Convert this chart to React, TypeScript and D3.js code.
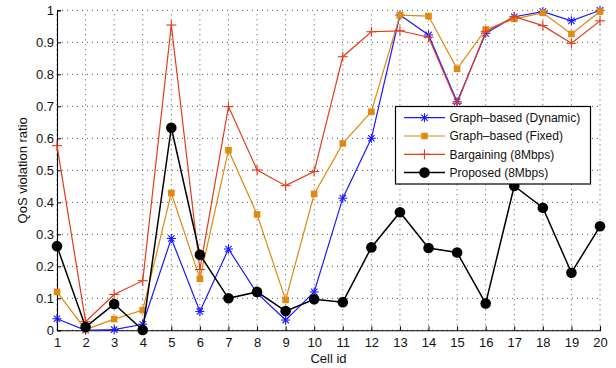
import React, { useEffect, useRef } from 'react';
import * as d3 from 'd3';

const cells = [1, 2, 3, 4, 5, 6, 7, 8, 9, 10, 11, 12, 13, 14, 15, 16, 17, 18, 19, 20];
const yTicks = [0, 0.1, 0.2, 0.3, 0.4, 0.5, 0.6, 0.7, 0.8, 0.9, 1];

const dynamicVals = [0.036, 0.0, 0.002, 0.019, 0.287, 0.059, 0.254, 0.116, 0.032, 0.12, 0.413, 0.6, 0.985, 0.923, 0.714, 0.928, 0.98, 0.996, 0.967, 1.0];
const fixedVals = [0.12, 0.002, 0.035, 0.063, 0.429, 0.161, 0.563, 0.362, 0.095, 0.426, 0.584, 0.683, 0.985, 0.982, 0.817, 0.94, 0.973, 0.992, 0.926, 0.996];
const bargainVals = [0.577, 0.027, 0.112, 0.155, 0.954, 0.19, 0.699, 0.501, 0.452, 0.496, 0.855, 0.933, 0.936, 0.916, 0.709, 0.933, 0.98, 0.952, 0.897, 0.967];
const proposedVals = [0.263, 0.01, 0.082, 0.001, 0.633, 0.236, 0.1, 0.12, 0.06, 0.097, 0.088, 0.259, 0.369, 0.257, 0.243, 0.084, 0.451, 0.383, 0.18, 0.325];

const seriesNames = ['Graph\u2013based (Dynamic)', 'Graph\u2013based (Fixed)', 'Bargaining (8Mbps)', 'Proposed (8Mbps)'];
const seriesColors = ['#1a1aff', '#e08a10', '#e23c1a', '#000000'];
const seriesMarkers = ['star', 'square', 'plus', 'circle'];

const W = 616, H = 368;
const FONT = '"Liberation Sans", Arial, Helvetica, sans-serif';

function drawMarker(g: any, kind: string, x: number, y: number, color: string) {
    if (kind === 'star') {
        const r = 4.5;
        for (let a = 0; a < 4; a++) {
            const ang = a * Math.PI / 4;
            g.append('line')
                .attr('x1', x - r * Math.cos(ang)).attr('y1', y - r * Math.sin(ang))
                .attr('x2', x + r * Math.cos(ang)).attr('y2', y + r * Math.sin(ang))
                .attr('stroke', color).attr('stroke-width', 1.1);
        }
    } else if (kind === 'square') {
        g.append('rect')
            .attr('x', x - 3.3).attr('y', y - 3.3)
            .attr('width', 6.6).attr('height', 6.6)
            .attr('fill', color);
    } else if (kind === 'plus') {
        const r = 5;
        g.append('line').attr('x1', x - r).attr('x2', x + r).attr('y1', y).attr('y2', y)
            .attr('stroke', color).attr('stroke-width', 1.1);
        g.append('line').attr('x1', x).attr('x2', x).attr('y1', y - r).attr('y2', y + r)
            .attr('stroke', color).attr('stroke-width', 1.1);
    } else {
        g.append('circle').attr('cx', x).attr('cy', y).attr('r', 5.3).attr('fill', color);
    }
}

export default function App() {
    const ref = useRef<SVGSVGElement>(null);

    useEffect(() => {
        const svg = d3.select(ref.current);
        svg.selectAll('*').remove();

        const x = d3.scaleLinear().domain([1, 20]).range([57, 600]);
        const y = d3.scaleLinear().domain([0, 1]).range([330.3, 10.3]);

        const grid = svg.append('g');
        // dotted grid
        cells.forEach((c) => {
            grid.append('line')
                .attr('x1', x(c)).attr('x2', x(c)).attr('y1', y(0)).attr('y2', y(1))
                .attr('stroke', '#222').attr('stroke-width', 0.8).attr('stroke-dasharray', '1,4');
        });
        yTicks.forEach((t) => {
            grid.append('line')
                .attr('x1', x(1)).attr('x2', x(20)).attr('y1', y(t)).attr('y2', y(t))
                .attr('stroke', '#222').attr('stroke-width', 0.8).attr('stroke-dasharray', '1,4');
        });

        // axes
        const xAxis = d3.axisBottom(x).tickValues(cells).tickSize(-4).tickPadding(7).tickFormat(d3.format('d'));
        const yAxis = d3.axisLeft(y).tickValues(yTicks).tickSize(-4).tickPadding(3).tickFormat((d: any) => d === 0 ? '0' : d === 1 ? '1' : d3.format('.1f')(d));
        const gx = svg.append('g').attr('transform', `translate(0,${y(0)})`).call(xAxis as any);
        const gy = svg.append('g').attr('transform', `translate(${x(1)},0)`).call(yAxis as any);
        [gx, gy].forEach((g) => {
            g.select('.domain').attr('stroke', '#000').attr('stroke-width', 1.1);
            g.selectAll('.tick line').attr('stroke', '#000');
            g.selectAll('.tick text').attr('font-family', FONT).attr('font-size', 13).attr('fill', '#111');
        });

        // axis labels
        svg.append('text')
            .attr('x', x(10.5)).attr('y', 363)
            .attr('text-anchor', 'middle')
            .attr('font-family', FONT).attr('font-size', 13).attr('fill', '#111')
            .text('Cell id');
        svg.append('text')
            .attr('transform', `translate(27,${y(0.5)}) rotate(-90)`)
            .attr('text-anchor', 'middle')
            .attr('font-family', FONT).attr('font-size', 13).attr('fill', '#111')
            .text('QoS violation ratio');

        // series
        const allVals = [dynamicVals, fixedVals, bargainVals, proposedVals];
        const line = d3.line<number>().x((d, i) => x(cells[i])).y((d) => y(d));
        allVals.forEach((vals, s) => {
            const g = svg.append('g');
            g.append('path')
                .datum(vals)
                .attr('d', line)
                .attr('fill', 'none')
                .attr('stroke', seriesColors[s])
                .attr('stroke-width', s === 3 ? 1.5 : 1.2);
            vals.forEach((v, i) => drawMarker(g, seriesMarkers[s], x(cells[i]), y(v), seriesColors[s]));
        });

        // legend
        const lg = svg.append('g');
        lg.append('rect')
            .attr('x', 395.5).attr('y', 106.5).attr('width', 195).attr('height', 77.5)
            .attr('fill', '#fff').attr('stroke', '#000').attr('stroke-width', 1.2);
        seriesNames.forEach((name, s) => {
            const ly = 117.7 + s * 18.3;
            lg.append('line')
                .attr('x1', 404).attr('x2', 445).attr('y1', ly).attr('y2', ly)
                .attr('stroke', seriesColors[s]).attr('stroke-width', s === 3 ? 1.5 : 1.2);
            drawMarker(lg, seriesMarkers[s], 424.5, ly, seriesColors[s]);
            lg.append('text')
                .attr('x', 449.5).attr('y', ly + 4.4)
                .attr('font-family', FONT).attr('font-size', 12).attr('fill', '#111')
                .text(name);
        });
    }, []);

    return (
        <div style={{ position: 'absolute', left: 0, top: 0 }}>
            <svg ref={ref} width={W} height={H} style={{ display: 'block', background: '#fff' }} />
        </div>
    );
}
